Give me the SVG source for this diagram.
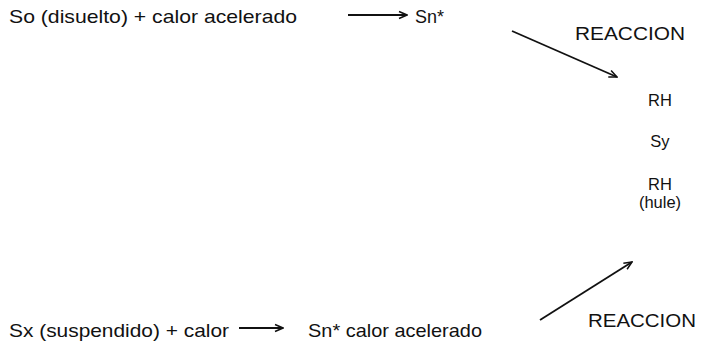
<svg xmlns="http://www.w3.org/2000/svg" width="702" height="351" viewBox="0 0 702 351">
<defs>
<style>
text{font-family:"Liberation Sans",Arial,sans-serif;font-size:19px;fill:#111}
.col{font-size:16.5px}
.c{stroke:#111;stroke-width:1.8;fill:none}
</style>
<marker id="ah" viewBox="0 0 10 10" refX="9" refY="5" markerWidth="10" markerHeight="10" orient="auto" markerUnits="userSpaceOnUse">
<path d="M1,1.5 L9,5 L1,8.5" fill="none" stroke="#111" stroke-width="1.5"/>
</marker>
</defs>
<rect width="702" height="351" fill="#fff"/>
<g id="n-so"><text x="9" y="23" textLength="288" lengthAdjust="spacingAndGlyphs">So (disuelto) + calor acelerado</text></g>
<g id="n-sn1"><text x="415" y="23" textLength="29" lengthAdjust="spacingAndGlyphs">Sn*</text></g>
<g id="n-reac1"><text x="575" y="40" textLength="110" lengthAdjust="spacingAndGlyphs">REACCION</text></g>
<g id="n-product">
<text class="col" x="660" y="106" text-anchor="middle">RH</text>
<text class="col" x="660" y="147" text-anchor="middle">Sy</text>
<text class="col" x="660" y="190" text-anchor="middle">RH</text>
<text class="col" x="660" y="208" text-anchor="middle">(hule)</text>
</g>
<g id="n-sx"><text x="9" y="337" textLength="220" lengthAdjust="spacingAndGlyphs">Sx (suspendido) + calor</text></g>
<g id="n-sn2"><text x="308" y="337" textLength="174" lengthAdjust="spacingAndGlyphs">Sn* calor acelerado</text></g>
<g id="n-reac2"><text x="588" y="327" textLength="108" lengthAdjust="spacingAndGlyphs">REACCION</text></g>
<g id="connectors">
<line class="c" x1="348" y1="15" x2="407" y2="15" marker-end="url(#ah)"/>
<line class="c" x1="512" y1="31" x2="617" y2="77" marker-end="url(#ah)"/>
<line class="c" x1="239" y1="328" x2="283" y2="328" marker-end="url(#ah)"/>
<line class="c" x1="540" y1="320" x2="632" y2="262" marker-end="url(#ah)"/>
</g>
</svg>
